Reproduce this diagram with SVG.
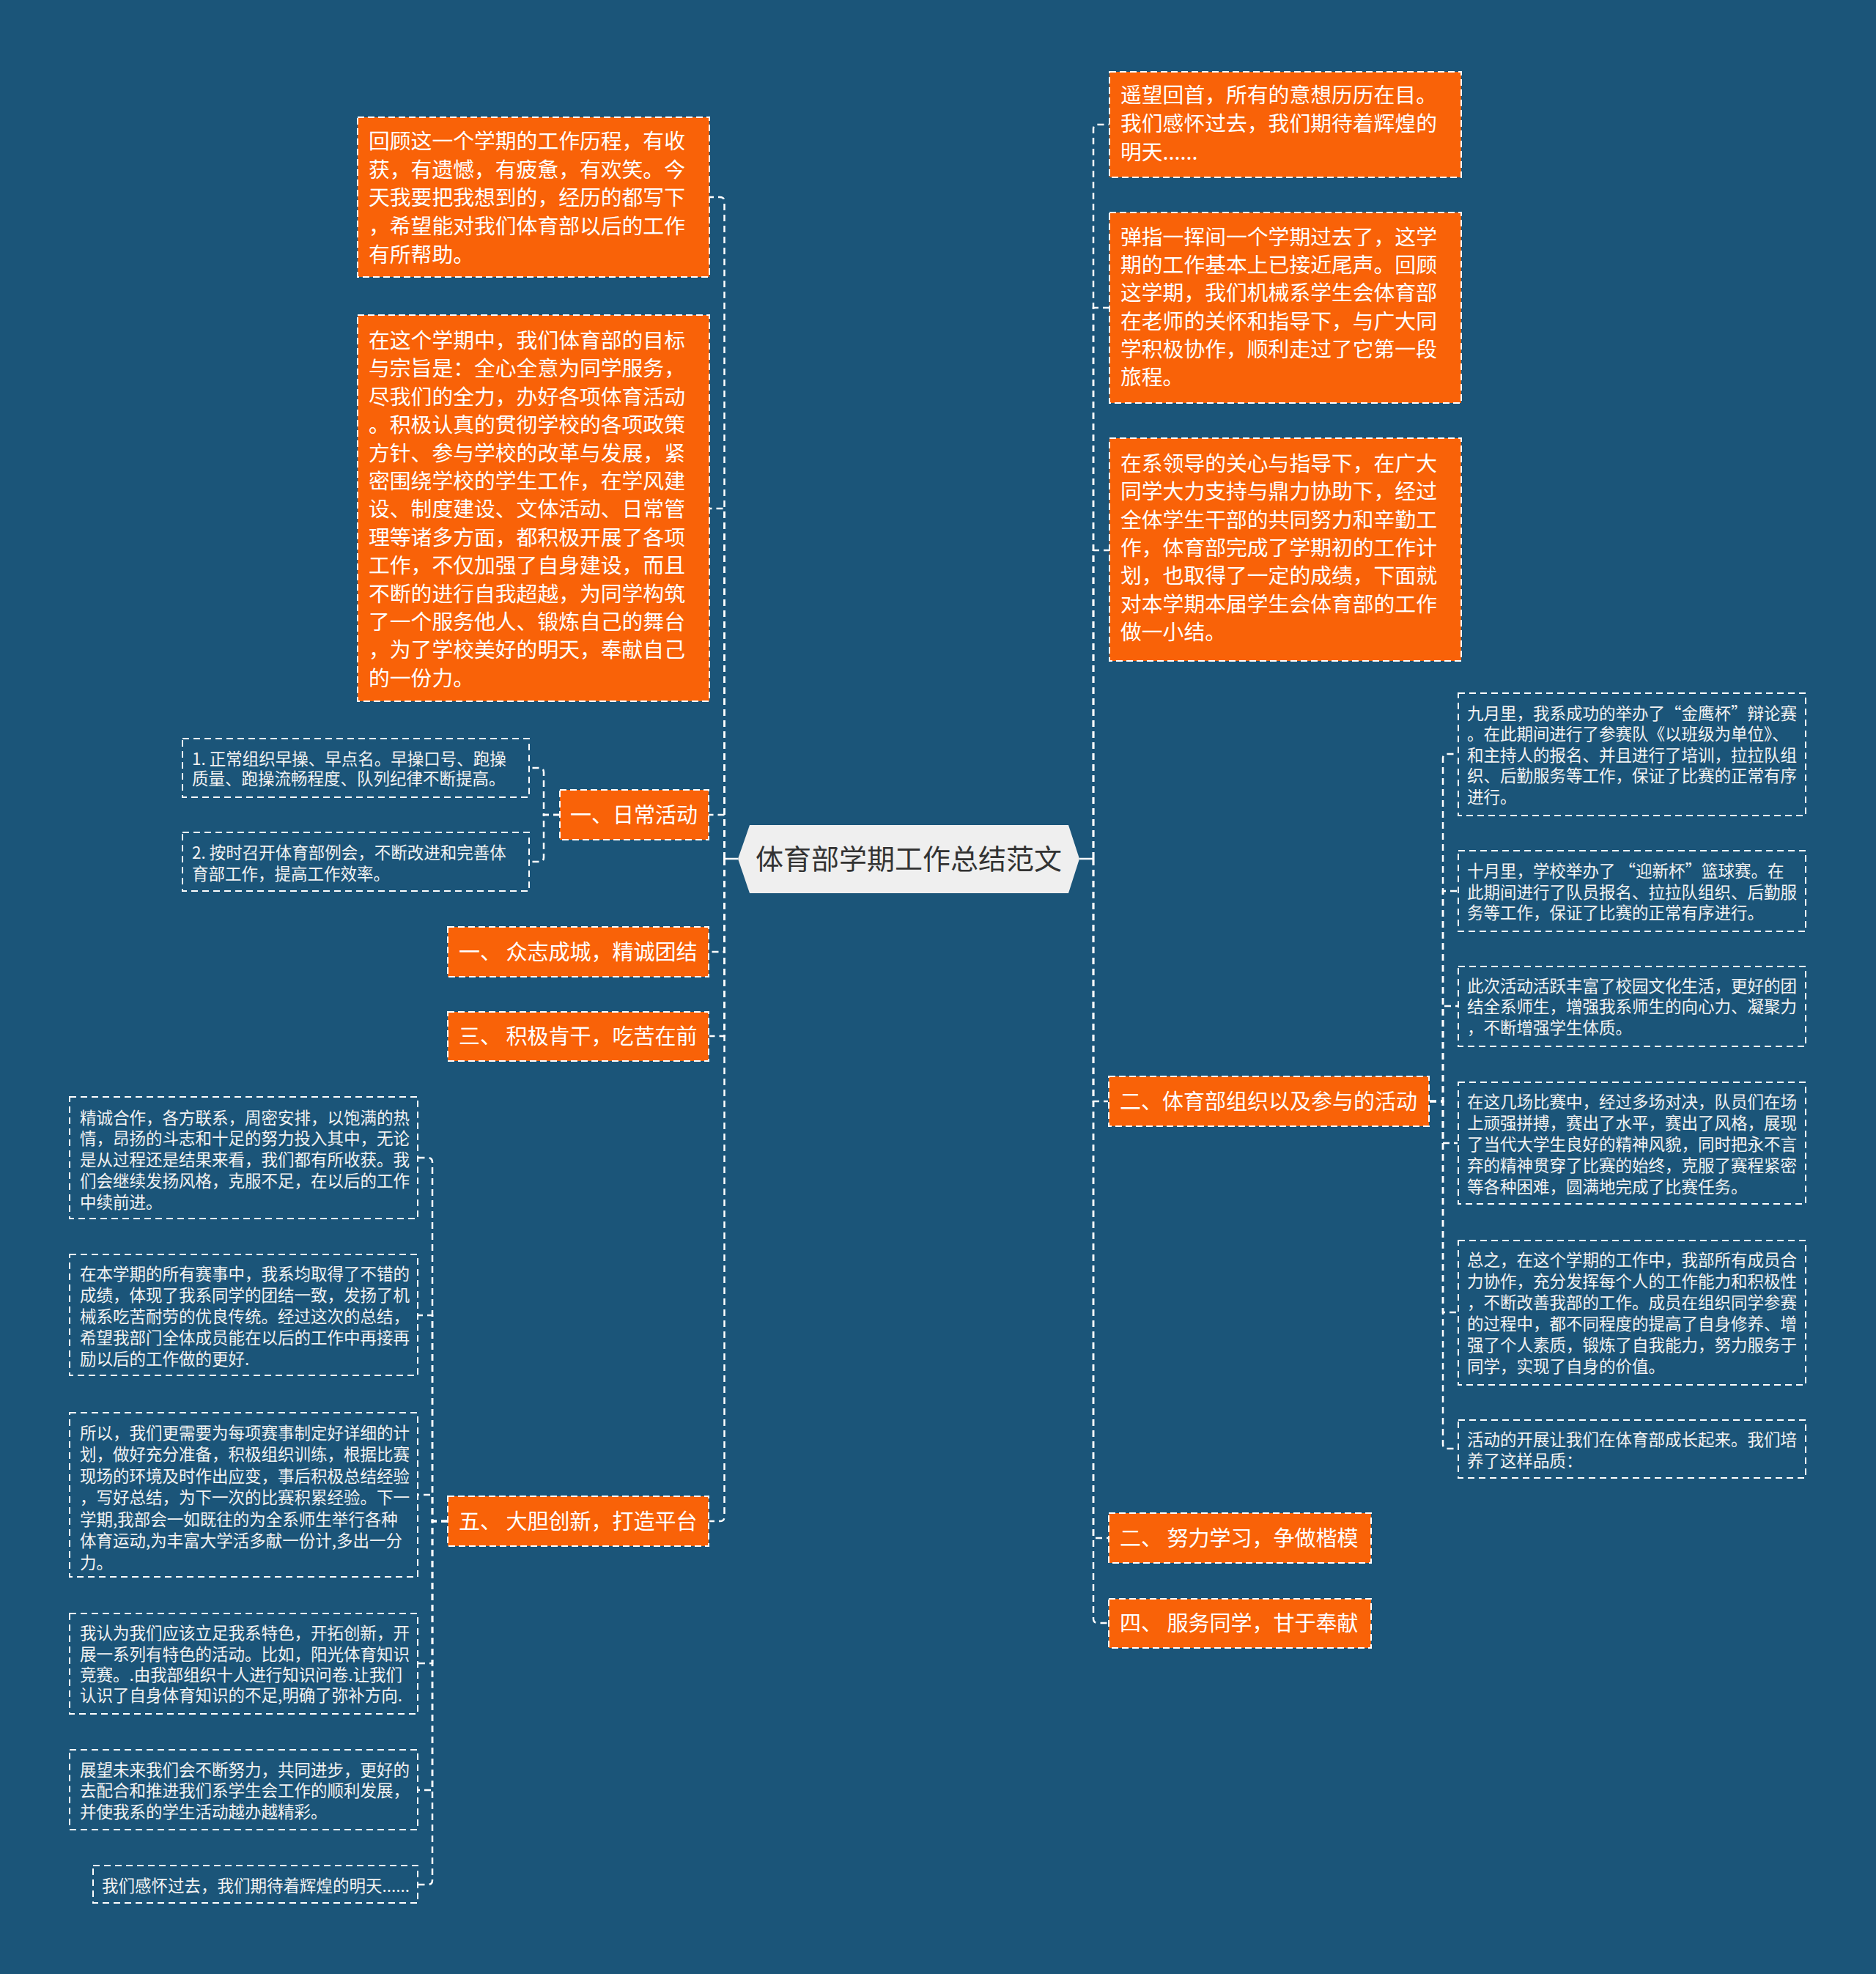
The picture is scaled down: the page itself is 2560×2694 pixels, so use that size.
<svg xmlns="http://www.w3.org/2000/svg" width="2560" height="2694" viewBox="0 0 2560 2694">
<style>
.ob{fill:#f96208;stroke:#ffffff;stroke-width:2;stroke-dasharray:9 5}
.sb{fill:none;stroke:#ffffff;stroke-width:2;stroke-dasharray:9 6}
.ot{font-family:"Noto Sans CJK SC","Microsoft YaHei",sans-serif;font-size:28.8px;fill:#ffffff}
.lt{font-family:"Noto Sans CJK SC","Microsoft YaHei",sans-serif;font-size:29px;fill:#ffffff}
.st{font-family:"Noto Sans CJK SC","Microsoft YaHei",sans-serif;font-size:22.5px;fill:#f2f2f2}
.cn{fill:none;stroke:#ffffff;stroke-width:2.5;stroke-dasharray:9 6}
.cs{fill:none;stroke:#ffffff;stroke-width:2.5}
</style>
<rect x="0" y="0" width="2560" height="2694" fill="#1b5579"/>
<g id="connectors">
<path class="cs" d="M1007 1172H988.5"/>
<path class="cs" d="M1473 1172H1492"/>
<path class="cn" d="M988.5 1172V275Q988.5 269 982.5 269H968"/>
<path class="cn" d="M988.5 1172V694H968"/>
<path class="cn" d="M988.5 1172V1112H966"/>
<path class="cn" d="M988.5 1172V1299H968"/>
<path class="cn" d="M988.5 1172V1414H968"/>
<path class="cn" d="M988.5 1172V2070Q988.5 2076 982.5 2076H968"/>
<path class="cn" d="M764 1112H742V1054Q742 1048 736 1048H723"/>
<path class="cn" d="M764 1112H742V1170Q742 1176 736 1176H723"/>
<path class="cn" d="M611 2076H590V1586Q590 1580 584 1580H571"/>
<path class="cn" d="M611 2076H590V1795H571"/>
<path class="cn" d="M611 2076H590V2040H571"/>
<path class="cn" d="M611 2076H590V2270H571"/>
<path class="cn" d="M611 2076H590V2443H571"/>
<path class="cn" d="M611 2076H590V2566Q590 2572 584 2572H571"/>
<path class="cn" d="M1492 1172V176Q1492 170 1498 170H1513"/>
<path class="cn" d="M1492 1172V420H1513"/>
<path class="cn" d="M1492 1172V751H1513"/>
<path class="cn" d="M1492 1172V1503H1512"/>
<path class="cn" d="M1492 1172V2099H1512"/>
<path class="cn" d="M1492 1172V2209Q1492 2215 1498 2215H1512"/>
<path class="cn" d="M1951 1503H1969V1035Q1969 1029 1975 1029H1989"/>
<path class="cn" d="M1951 1503H1969V1216H1989"/>
<path class="cn" d="M1951 1503H1969V1373H1989"/>
<path class="cn" d="M1951 1503H1969V1560H1989"/>
<path class="cn" d="M1951 1503H1969V1791H1989"/>
<path class="cn" d="M1951 1503H1969V1971Q1969 1977 1975 1977H1989"/>
</g>
<g id="root">
<polygon points="1007,1172 1023,1126 1458,1126 1473,1172 1458,1219 1023,1219" fill="#efefef"/>
<text x="1240" y="1186" text-anchor="middle" font-family="'Noto Sans CJK SC','Microsoft YaHei',sans-serif" font-size="38" fill="#333333">体育部学期工作总结范文</text>
</g>
<g id="n-left1">
<rect class="ob" x="488" y="160" width="480" height="218"/>
<text class="ot"><tspan x="503" y="203">回顾这一个学期的工作历程，有收</tspan><tspan x="503" y="241.7">获，有遗憾，有疲惫，有欢笑。今</tspan><tspan x="503" y="280.4">天我要把我想到的，经历的都写下</tspan><tspan x="503" y="319.1">，希望能对我们体育部以后的工作</tspan><tspan x="503" y="357.8">有所帮助。</tspan></text>
</g>
<g id="n-left2">
<rect class="ob" x="488" y="430" width="480" height="527"/>
<text class="ot"><tspan x="503" y="475">在这个学期中，我们体育部的目标</tspan><tspan x="503" y="513.4">与宗旨是：全心全意为同学服务，</tspan><tspan x="503" y="551.8">尽我们的全力，办好各项体育活动</tspan><tspan x="503" y="590.2">。积极认真的贯彻学校的各项政策</tspan><tspan x="503" y="628.6">方针、参与学校的改革与发展，紧</tspan><tspan x="503" y="667">密围绕学校的学生工作，在学风建</tspan><tspan x="503" y="705.4">设、制度建设、文体活动、日常管</tspan><tspan x="503" y="743.8">理等诸多方面，都积极开展了各项</tspan><tspan x="503" y="782.2">工作，不仅加强了自身建设，而且</tspan><tspan x="503" y="820.6">不断的进行自我超越，为同学构筑</tspan><tspan x="503" y="859">了一个服务他人、锻炼自己的舞台</tspan><tspan x="503" y="897.4">，为了学校美好的明天，奉献自己</tspan><tspan x="503" y="935.8">的一份力。</tspan></text>
</g>
<g id="n-daily">
<rect class="ob" x="764" y="1078" width="203" height="68"/>
<text class="lt" x="778" y="1123">一、日常活动</text>
</g>
<g id="n-daily1">
<rect class="sb" x="249" y="1008" width="473" height="80"/>
<text class="st"><tspan x="262" y="1043.5">1. 正常组织早操、早点名。早操口号、跑操</tspan><tspan x="262" y="1070.5">质量、跑操流畅程度、队列纪律不断提高。</tspan></text>
</g>
<g id="n-daily2">
<rect class="sb" x="249" y="1136" width="473" height="80"/>
<text class="st"><tspan x="262" y="1171.5">2. 按时召开体育部例会，不断改进和完善体</tspan><tspan x="262" y="1200.5">育部工作，提高工作效率。</tspan></text>
</g>
<g id="n-unity">
<rect class="ob" x="611" y="1265" width="356" height="68"/>
<text class="lt" x="626" y="1310">一、 众志成城，精诚团结</text>
</g>
<g id="n-hard">
<rect class="ob" x="611" y="1381" width="356" height="67"/>
<text class="lt" x="626" y="1425">三、 积极肯干，吃苦在前</text>
</g>
<g id="n-innov">
<rect class="ob" x="611" y="2042" width="356" height="68"/>
<text class="lt" x="626" y="2087">五、 大胆创新，打造平台</text>
</g>
<g id="n-l1">
<rect class="sb" x="95" y="1497" width="475" height="166"/>
<text class="st"><tspan x="109" y="1533.5">精诚合作，各方联系，周密安排，以饱满的热</tspan><tspan x="109" y="1562.4">情，昂扬的斗志和十足的努力投入其中，无论</tspan><tspan x="109" y="1591.3">是从过程还是结果来看，我们都有所收获。我</tspan><tspan x="109" y="1620.2">们会继续发扬风格，克服不足，在以后的工作</tspan><tspan x="109" y="1649.1">中续前进。</tspan></text>
</g>
<g id="n-l2">
<rect class="sb" x="95" y="1712" width="475" height="165"/>
<text class="st"><tspan x="109" y="1746.5">在本学期的所有赛事中，我系均取得了不错的</tspan><tspan x="109" y="1775.5">成绩，体现了我系同学的团结一致，发扬了机</tspan><tspan x="109" y="1804.5">械系吃苦耐劳的优良传统。经过这次的总结，</tspan><tspan x="109" y="1833.5">希望我部门全体成员能在以后的工作中再接再</tspan><tspan x="109" y="1862.5">励以后的工作做的更好.</tspan></text>
</g>
<g id="n-l3">
<rect class="sb" x="95" y="1928" width="475" height="224"/>
<text class="st"><tspan x="109" y="1963.5">所以，我们更需要为每项赛事制定好详细的计</tspan><tspan x="109" y="1993">划，做好充分准备，积极组织训练，根据比赛</tspan><tspan x="109" y="2022.5">现场的环境及时作出应变，事后积极总结经验</tspan><tspan x="109" y="2052">，写好总结，为下一次的比赛积累经验。下一</tspan><tspan x="109" y="2081.5">学期,我部会一如既往的为全系师生举行各种</tspan><tspan x="109" y="2111">体育运动,为丰富大学活多献一份计,多出一分</tspan><tspan x="109" y="2140.5">力。</tspan></text>
</g>
<g id="n-l4">
<rect class="sb" x="95" y="2202" width="475" height="137"/>
<text class="st"><tspan x="109" y="2236.5">我认为我们应该立足我系特色，开拓创新，开</tspan><tspan x="109" y="2265.5">展一系列有特色的活动。比如，阳光体育知识</tspan><tspan x="109" y="2293.5">竞赛。.由我部组织十人进行知识问卷.让我们</tspan><tspan x="109" y="2321.5">认识了自身体育知识的不足,明确了弥补方向.</tspan></text>
</g>
<g id="n-l5">
<rect class="sb" x="95" y="2388" width="475" height="109"/>
<text class="st"><tspan x="109" y="2423.5">展望未来我们会不断努力，共同进步，更好的</tspan><tspan x="109" y="2451.5">去配合和推进我们系学生会工作的顺利发展，</tspan><tspan x="109" y="2480.5">并使我系的学生活动越办越精彩。</tspan></text>
</g>
<g id="n-l6">
<rect class="sb" x="127" y="2546" width="443" height="51"/>
<text class="st" x="139" y="2581.5">我们感怀过去，我们期待着辉煌的明天......</text>
</g>
<g id="n-right1">
<rect class="ob" x="1514" y="98" width="480" height="144"/>
<text class="ot"><tspan x="1529" y="140">遥望回首，所有的意想历历在目。</tspan><tspan x="1529" y="179">我们感怀过去，我们期待着辉煌的</tspan><tspan x="1529" y="218">明天......</tspan></text>
</g>
<g id="n-right2">
<rect class="ob" x="1514" y="290" width="480" height="260"/>
<text class="ot"><tspan x="1529" y="334">弹指一挥间一个学期过去了，这学</tspan><tspan x="1529" y="372.2">期的工作基本上已接近尾声。回顾</tspan><tspan x="1529" y="410.4">这学期，我们机械系学生会体育部</tspan><tspan x="1529" y="448.6">在老师的关怀和指导下，与广大同</tspan><tspan x="1529" y="486.8">学积极协作，顺利走过了它第一段</tspan><tspan x="1529" y="525">旅程。</tspan></text>
</g>
<g id="n-right3">
<rect class="ob" x="1514" y="598" width="480" height="304"/>
<text class="ot"><tspan x="1529" y="643">在系领导的关心与指导下，在广大</tspan><tspan x="1529" y="681.3">同学大力支持与鼎力协助下，经过</tspan><tspan x="1529" y="719.6">全体学生干部的共同努力和辛勤工</tspan><tspan x="1529" y="757.9">作，体育部完成了学期初的工作计</tspan><tspan x="1529" y="796.2">划，也取得了一定的成绩，下面就</tspan><tspan x="1529" y="834.5">对本学期本届学生会体育部的工作</tspan><tspan x="1529" y="872.8">做一小结。</tspan></text>
</g>
<g id="n-activity">
<rect class="ob" x="1513" y="1469" width="437" height="68"/>
<text class="lt" x="1528" y="1514">二、体育部组织以及参与的活动</text>
</g>
<g id="n-r1">
<rect class="sb" x="1990" y="946" width="474" height="167"/>
<text class="st"><tspan x="2002" y="981.5">九月里，我系成功的举办了“金鹰杯”辩论赛</tspan><tspan x="2002" y="1010">。在此期间进行了参赛队《以班级为单位》、</tspan><tspan x="2002" y="1038.5">和主持人的报名、并且进行了培训，拉拉队组</tspan><tspan x="2002" y="1067">织、后勤服务等工作，保证了比赛的正常有序</tspan><tspan x="2002" y="1095.5">进行。</tspan></text>
</g>
<g id="n-r2">
<rect class="sb" x="1990" y="1161" width="474" height="110"/>
<text class="st"><tspan x="2002" y="1196.5">十月里，学校举办了 “迎新杯”篮球赛。在</tspan><tspan x="2002" y="1225.5">此期间进行了队员报名、拉拉队组织、后勤服</tspan><tspan x="2002" y="1253.5">务等工作，保证了比赛的正常有序进行。</tspan></text>
</g>
<g id="n-r3">
<rect class="sb" x="1990" y="1319" width="474" height="109"/>
<text class="st"><tspan x="2002" y="1353.5">此次活动活跃丰富了校园文化生活，更好的团</tspan><tspan x="2002" y="1381.5">结全系师生，增强我系师生的向心力、凝聚力</tspan><tspan x="2002" y="1410.5">，不断增强学生体质。</tspan></text>
</g>
<g id="n-r4">
<rect class="sb" x="1990" y="1477" width="474" height="166"/>
<text class="st"><tspan x="2002" y="1511.5">在这几场比赛中，经过多场对决，队员们在场</tspan><tspan x="2002" y="1540.5">上顽强拼搏，赛出了水平，赛出了风格，展现</tspan><tspan x="2002" y="1569.5">了当代大学生良好的精神风貌，同时把永不言</tspan><tspan x="2002" y="1598.5">弃的精神贯穿了比赛的始终，克服了赛程紧密</tspan><tspan x="2002" y="1627.5">等各种困难，圆满地完成了比赛任务。</tspan></text>
</g>
<g id="n-r5">
<rect class="sb" x="1990" y="1693" width="474" height="197"/>
<text class="st"><tspan x="2002" y="1727.5">总之，在这个学期的工作中，我部所有成员合</tspan><tspan x="2002" y="1756.5">力协作，充分发挥每个人的工作能力和积极性</tspan><tspan x="2002" y="1785.5">，不断改善我部的工作。成员在组织同学参赛</tspan><tspan x="2002" y="1814.5">的过程中，都不同程度的提高了自身修养、增</tspan><tspan x="2002" y="1843.5">强了个人素质，锻炼了自我能力，努力服务于</tspan><tspan x="2002" y="1872.5">同学，实现了自身的价值。</tspan></text>
</g>
<g id="n-r6">
<rect class="sb" x="1990" y="1938" width="474" height="79"/>
<text class="st"><tspan x="2002" y="1972.5">活动的开展让我们在体育部成长起来。我们培</tspan><tspan x="2002" y="2001.5">养了这样品质：</tspan></text>
</g>
<g id="n-study">
<rect class="ob" x="1513" y="2065" width="358" height="68"/>
<text class="lt" x="1528" y="2110">二、 努力学习，争做楷模</text>
</g>
<g id="n-serve">
<rect class="ob" x="1513" y="2182" width="358" height="67"/>
<text class="lt" x="1528" y="2226">四、 服务同学，甘于奉献</text>
</g>
</svg>
